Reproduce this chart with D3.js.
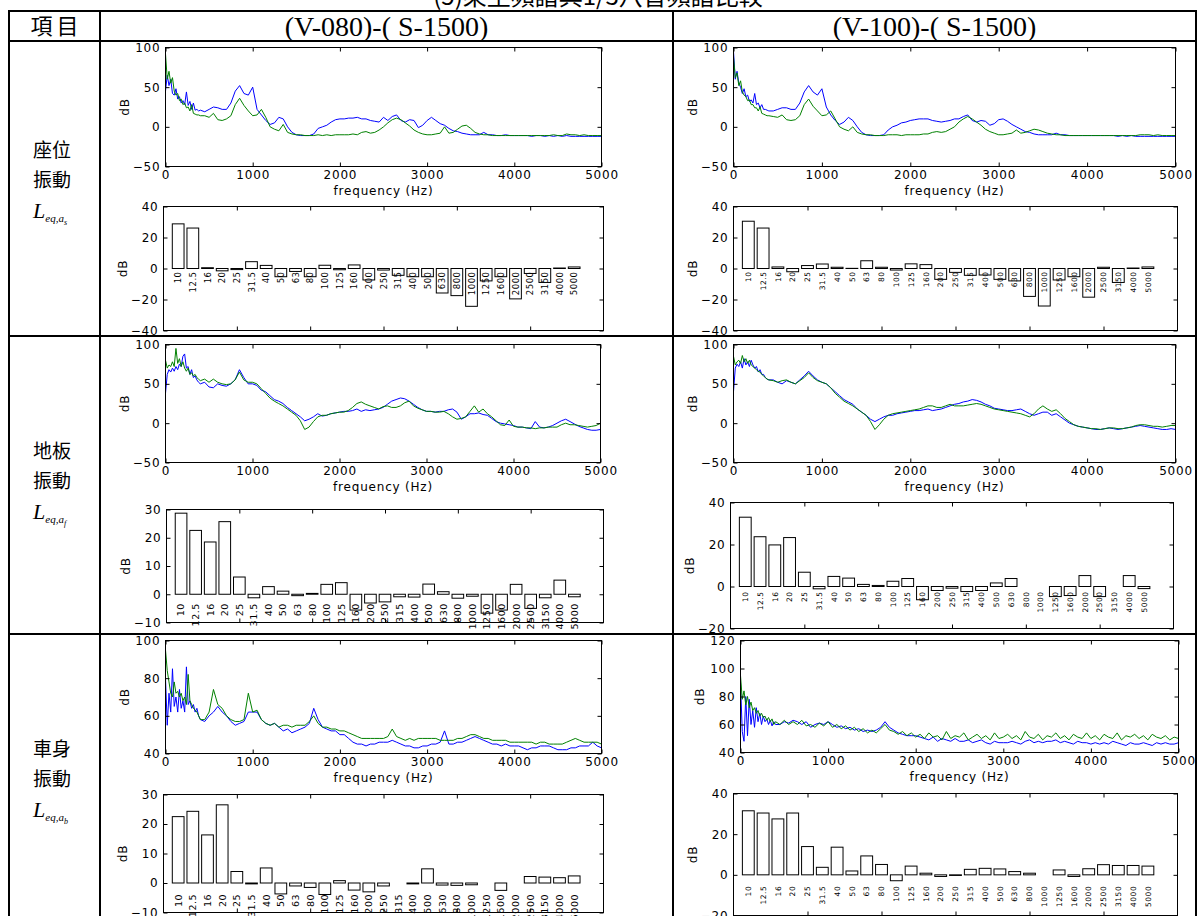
<!DOCTYPE html>
<html>
<head>
<meta charset="utf-8">
<style>
  body { margin: 0; background: #fff; }
</style>
</head>
<body>
<svg id="chart" width="1198" height="916" viewBox="0 0 1198 916" xmlns="http://www.w3.org/2000/svg"></svg>
<script src="https://d3js.org/d3.v7.min.js"></script>
<script>

const title = "(5)乘坐頻譜與1/3八音頻譜比較";
const colTitles = ["(V-080)-( S-1500)", "(V-100)-( S-1500)"];
const rowNames = [["座位", "振動", "s"], ["地板", "振動", "f"], ["車身", "振動", "b"]];

// 1/3 octave bands
const bands = ["10","12.5","16","20","25","31.5","40","50","63","80","100","125","160","200",
  "250","315","400","500","630","800","1000","1250","1600","2000","2500","3150","4000","5000"];

// spectrum frequency grid (Hz)
const freq = [0,20,40,60,80,100,120,140,160,180,200,220,240,260,280,300,320,340,360,380,400,
  450,500,
  550,600,650,700,750,800,850,900,950,1000,
  1050,1100,1150,1200,1250,1300,1350,1400,1450,1500,
  1550,1600,1650,1700,1750,1800,1850,1900,1950,2000,
  2050,2100,2150,2200,2250,2300,2350,2400,2450,2500,
  2550,2600,2650,2700,2750,2800,2850,2900,2950,3000,
  3050,3100,3150,3200,3250,3300,3350,3400,3450,3500,
  3550,3600,3650,3700,3750,3800,3850,3900,3950,4000,
  4050,4100,4150,4200,4250,4300,4350,4400,4450,4500,
  4550,4600,4650,4700,4750,4800,4850,4900,4950,5000];

// seat, V-080
const seat080Blue = [45,65,52,60,42,40,48,35,38,30,33,28,44,27,32,22,30,21,22,20,21,
  19,22,
  25,24,22,22,30,45,52,42,40,50,
  22,15,8,3,5,12,10,0,-7,-10,
  -11,-11,-11,-9,-2,0,2,6,9,10,
  10,11,11,12,10,10,8,7,6,12,
  8,13,15,8,6,9,8,-1,2,8,
  12,8,4,2,-2,-5,-6,-8,-9,-10,
  -10,-10,-7,-10,-10,-11,-11,-10,-11,-11,
  -11,-11,-11,-12,-11,-11,-12,-11,-12,-11,
  -12,-11,-12,-12,-12,-12,-12,-12,-12,-12];
const seat080Green = [92,60,70,55,62,45,40,42,33,35,28,30,24,25,20,28,17,16,15,15,14,
  14,12,
  17,9,8,10,14,28,36,27,20,14,
  15,22,12,0,-3,-5,3,-7,-9,-10,
  -10,-11,-11,-11,-10,-11,-10,-11,-10,-10,
  -10,-10,-9,-10,-7,-6,-8,-7,-4,0,
  5,9,11,9,5,1,-4,-7,-9,-10,
  -10,-9,-8,0,-8,-7,-3,1,2,-2,
  -7,-9,-10,-10,-11,-11,-11,-11,-11,-11,
  -11,-11,-11,-11,-11,-11,-11,-11,-10,-11,
  -11,-9,-10,-10,-11,-10,-11,-11,-11,-11];

// floor, V-080
const floor080Blue = [38,62,68,65,70,66,72,68,75,72,85,88,70,72,62,68,58,60,55,52,50,
  52,46,
  45,50,48,47,50,55,68,58,50,50,
  48,42,40,35,30,28,25,20,16,12,
  8,3,5,8,12,9,10,12,13,14,
  15,15,16,18,15,17,16,17,18,20,
  24,28,30,32,31,28,24,20,17,15,
  15,14,15,15,17,18,14,5,8,12,
  12,13,11,10,6,2,0,-1,-2,-3,
  -5,-5,-6,-7,2,-5,-6,-5,-3,0,
  3,5,2,-1,-4,-6,-8,-9,-9,-8];
const floor080Green = [80,70,74,72,78,72,95,76,82,72,78,70,66,70,62,64,60,62,58,56,54,
  56,52,
  56,52,50,49,50,55,65,55,52,52,
  50,44,38,32,28,25,22,18,14,10,
  3,-8,-5,2,8,10,10,12,13,14,
  14,16,20,25,27,24,22,20,18,21,
  22,20,20,22,26,28,22,19,17,15,
  15,14,14,15,12,8,5,6,8,15,
  22,14,18,12,8,3,-2,-3,4,-4,
  -5,-5,-6,-6,-7,-6,-6,-5,-5,-5,
  -2,0,-2,-2,-3,-4,-5,-4,-3,0];

// body, V-080
const body080Blue = [80,55,72,62,85,65,70,62,74,64,68,62,86,66,68,64,66,62,64,60,58,
  57,60,
  62,65,62,60,57,55,56,57,62,62,
  62,58,56,55,56,54,52,53,51,52,
  53,54,56,64,58,54,53,52,52,50,
  50,48,46,45,45,44,45,45,46,46,
  46,47,46,45,44,44,43,43,44,44,
  45,45,46,52,45,45,46,46,47,48,
  49,48,47,46,45,45,44,45,44,44,
  44,43,42,43,43,44,44,44,43,42,
  42,42,43,43,44,44,44,46,44,43];
const body080Green = [95,84,78,72,70,78,72,73,70,72,68,70,66,82,68,66,64,63,62,60,58,
  58,62,
  74,66,64,60,58,57,57,58,72,62,
  63,58,56,55,56,54,55,55,54,55,
  55,55,57,60,56,54,54,53,53,52,
  52,51,50,49,48,48,48,48,48,48,
  49,53,49,48,47,48,47,48,48,48,
  48,48,47,47,47,47,48,48,49,50,
  50,49,48,48,47,47,47,47,46,46,
  46,46,46,46,45,46,46,45,45,45,
  45,46,47,48,47,46,46,46,46,45];

// seat, V-100
const seat100Blue = [95,60,70,55,50,42,48,38,40,32,34,30,42,28,30,24,28,22,22,21,20,
  20,22,
  24,24,22,22,30,44,52,44,40,48,
  25,15,8,3,6,12,8,0,-7,-10,
  -11,-11,-11,-10,-4,0,2,5,6,8,
  9,10,10,10,8,7,6,7,8,10,
  10,13,15,8,6,8,7,2,4,9,
  10,7,3,0,-3,-6,-7,-9,-10,-10,
  -10,-10,-8,-10,-10,-11,-11,-11,-11,-11,
  -11,-11,-11,-11,-11,-11,-12,-11,-12,-11,
  -12,-12,-12,-12,-12,-12,-12,-12,-12,-12];
const seat100Green = [88,62,68,52,58,44,40,38,33,34,28,28,24,24,20,25,17,16,15,14,14,
  13,12,
  15,9,8,9,14,28,35,26,20,14,
  15,20,10,0,-3,-5,0,-7,-9,-10,
  -10,-11,-11,-11,-10,-10,-10,-11,-10,-10,
  -10,-10,-9,-9,-7,-6,-7,-6,-3,0,
  6,10,13,10,6,2,-3,-6,-8,-10,
  -10,-9,-8,-4,-8,-7,-5,-3,-4,-6,
  -8,-9,-10,-10,-11,-11,-11,-11,-11,-11,
  -11,-11,-11,-11,-11,-11,-11,-11,-11,-11,
  -11,-10,-10,-10,-11,-10,-11,-11,-11,-11];

// floor, V-100
const floor100Blue = [40,70,75,72,78,70,82,74,78,72,80,74,70,72,65,68,62,62,58,56,55,
  55,52,
  50,54,52,50,55,60,66,60,55,52,
  50,45,40,35,30,27,24,18,14,10,
  5,2,5,8,10,10,12,13,14,15,
  16,16,17,18,16,17,18,20,22,24,
  25,27,28,30,29,27,24,22,19,18,
  17,16,16,17,18,15,12,10,12,14,
  14,10,12,8,4,0,-2,-4,-5,-6,
  -7,-8,-8,-7,-6,-7,-8,-7,-6,-5,
  -4,-3,-4,-5,-6,-7,-8,-8,-7,-8];
const floor100Green = [85,74,78,80,76,86,78,82,76,80,74,72,70,68,66,65,62,60,58,56,55,
  54,52,
  54,55,52,50,54,58,64,58,54,52,
  50,45,38,33,28,25,22,18,14,10,
  2,-8,-2,5,10,12,13,14,15,16,
  17,18,20,22,22,20,20,22,24,22,
  22,22,23,24,25,24,22,20,18,17,
  16,15,14,13,12,10,8,12,18,22,
  18,15,17,12,6,2,-2,-4,-5,-6,
  -7,-7,-8,-7,-6,-6,-7,-7,-6,-5,
  -3,-2,-2,-3,-4,-4,-5,-4,-3,-3];

// body, V-100
const body100Blue = [90,55,48,80,52,78,60,70,58,72,62,68,60,66,62,64,60,63,59,62,60,
  60,62,
  61,63,62,60,62,58,60,61,60,62,
  60,58,59,57,58,56,57,55,56,55,
  56,58,62,58,56,54,53,52,52,52,
  51,50,49,51,48,50,49,48,50,48,
  48,49,47,48,49,47,46,48,47,47,
  47,48,47,46,48,49,47,48,47,48,
  48,49,47,48,47,46,48,47,47,46,
  47,46,47,46,48,47,46,45,47,46,
  46,47,46,45,47,46,47,46,46,47];
const body100Green = [95,78,84,74,80,72,76,70,72,68,70,66,68,65,66,63,65,62,64,60,62,
  60,63,
  60,62,60,63,59,60,58,61,59,62,
  58,60,57,59,56,58,55,57,54,56,
  54,57,60,56,55,53,55,52,54,51,
  53,50,54,51,52,49,55,50,52,51,
  54,49,51,53,50,52,49,54,50,51,
  53,50,52,49,55,51,50,53,49,52,
  51,54,50,52,49,53,51,50,54,50,
  52,49,53,51,50,54,49,52,51,53,
  50,52,49,53,51,50,52,49,51,50];

// 1/3 octave band levels (dB)
const barSeat080  = [28.8,26.1,0.5,-1.5,-0.7,4.4,2,-5.3,-1.9,-5.3,2.1,-0.8,2.3,-7.4,-1,-4.4,-5.3,-5.3,-15.8,-17.5,-24.4,-8,-5.3,-19.6,-3.2,-9,0.3,1];
const barSeat100  = [30.5,26.1,1,-2.1,1.9,2.9,0.8,0.1,5,0.8,-1,3,2.5,-7,-2.5,-4.4,-4.2,-7,-8,-18,-24.2,-7.4,-5.3,-18.5,0.8,-9,0.3,1];
const barFloor080 = [28.7,22.6,18.5,25.7,6.1,-1.25,2.7,1.1,-0.5,0.3,3.5,4.1,-5.6,-3.1,-2.7,-0.9,-1,3.6,0.9,-1.4,-0.7,-6.7,-5.6,3.5,-5,-1.25,5,-0.9];
const barFloor100 = [33,23.7,19.8,23.3,6.8,-1.1,4.8,4,1,0.5,2.5,3.8,-6.3,-1.9,-0.8,-2.4,-1.9,1.7,3.8,0,0,-4.8,-4.3,5.2,-4.8,0,5.2,-1];
const barBody080  = [22.5,24.3,16.3,26.5,3.9,-0.3,5.1,-3.7,-1,-1.5,-3.9,0.8,-2.4,-3,-1,0,-0.3,4.8,-0.7,-0.8,-0.6,0,-2.5,0,2.2,2,1.8,2.4];
const barBody100  = [31.5,30.4,27.5,30.4,13.9,3.7,13.6,1.9,9.3,5.1,-2.9,4.3,0.8,-0.8,-0.3,2.7,3.2,2.9,1.6,0.8,0,2.4,-0.8,3,5,4.6,4.6,4.3];

// ---- layout ----
const svg = d3.select("#chart");
const tick = "DejaVu Sans";
const cjk = "Noto Sans CJK TC";
const tickSize = 12, tickSpacing = 0.8;

const specPanels = [
  { x0: 165, x1: 601, y0: 47,  y1: 166, dom: [-50, 100], ticks: [-50, 0, 50, 100], blue: seat080Blue,  green: seat080Green },
  { x0: 165, x1: 600, y0: 344, y1: 462, dom: [-50, 100], ticks: [-50, 0, 50, 100], blue: floor080Blue, green: floor080Green },
  { x0: 165, x1: 601, y0: 640, y1: 753, dom: [40, 100],  ticks: [40, 60, 80, 100], blue: body080Blue,  green: body080Green },
  { x0: 733, x1: 1175, y0: 47,  y1: 166, dom: [-50, 100], ticks: [-50, 0, 50, 100], blue: seat100Blue,  green: seat100Green },
  { x0: 733, x1: 1175, y0: 344, y1: 462, dom: [-50, 100], ticks: [-50, 0, 50, 100], blue: floor100Blue, green: floor100Green },
  { x0: 740, x1: 1178, y0: 640, y1: 752, dom: [40, 120],  ticks: [40, 60, 80, 100, 120], blue: body100Blue, green: body100Green }
];

const barPanels = [
  { x0: 163, x1: 603, y0: 206, y1: 330, dom: [-40, 40], ticks: [-40, -20, 0, 20, 40], vals: barSeat080,  lab: 8.5, off: 3 },
  { x0: 166, x1: 603, y0: 509, y1: 622, dom: [-10, 30], ticks: [-10, 0, 10, 20, 30],  vals: barFloor080, lab: 9.5, off: 9 },
  { x0: 163, x1: 603, y0: 794, y1: 912, dom: [-10, 30], ticks: [-10, 0, 10, 20, 30],  vals: barBody080,  lab: 9.5, off: 11 },
  { x0: 733, x1: 1177, y0: 206, y1: 330, dom: [-40, 40], ticks: [-40, -20, 0, 20, 40], vals: barSeat100,  lab: 7.5, off: 3 },
  { x0: 730, x1: 1173, y0: 502, y1: 628, dom: [-20, 40], ticks: [-20, 0, 20, 40],      vals: barFloor100, lab: 7.5, off: 5 },
  { x0: 733, x1: 1177, y0: 793, y1: 915, dom: [-20, 40], ticks: [-20, 0, 20, 40],      vals: barBody100,  lab: 7.5, off: 11 }
];

function styleAxis(a) {
  a.select(".domain").remove();
  a.attr("font-family", tick).attr("font-size", tickSize).attr("letter-spacing", tickSpacing);
  a.selectAll("line").attr("stroke", "#000");
  a.selectAll("text").attr("fill", "#000");
}

function drawAxes(g, x, y, w, h, xt, yt, xfmt) {
  const mk = (gen, tr) => { const a = g.append("g").attr("transform", tr).call(gen); styleAxis(a); return a; };
  mk(d3.axisBottom(x).tickValues(xt).tickSizeInner(-4).tickSizeOuter(0).tickPadding(4).tickFormat(xfmt), `translate(0,${h})`);
  mk(d3.axisTop(x).tickValues(xt).tickSizeInner(-4).tickSizeOuter(0).tickFormat(""), "translate(0,0)");
  mk(d3.axisLeft(y).tickValues(yt).tickSizeInner(-4).tickSizeOuter(0).tickPadding(5), "translate(0,0)");
  mk(d3.axisRight(y).tickValues(yt).tickSizeInner(-4).tickSizeOuter(0).tickFormat(""), `translate(${w},0)`);
  g.append("rect").attr("width", w).attr("height", h).attr("fill", "none").attr("stroke", "#000");
  g.append("text")
    .attr("transform", `translate(-41,${h / 2}) rotate(-90)`)
    .attr("text-anchor", "middle").attr("dy", "0.35em")
    .attr("font-family", tick).attr("font-size", tickSize).attr("letter-spacing", tickSpacing)
    .text("dB");
}

// spectra
specPanels.forEach((p, i) => {
  const w = p.x1 - p.x0, h = p.y1 - p.y0;
  const g = svg.append("g").attr("transform", `translate(${p.x0 + 0.5},${p.y0 + 0.5})`);
  const x = d3.scaleLinear().domain([0, 5000]).range([0, w]);
  const y = d3.scaleLinear().domain(p.dom).range([h, 0]);
  g.append("clipPath").attr("id", "clip" + i)
    .append("rect").attr("width", w).attr("height", h);
  const line = d3.line()
    .defined(d => d[1] != null)
    .x(d => x(d[0])).y(d => y(d[1]));
  [[p.blue, "#0000ff"], [p.green, "#008000"]].forEach(([s, c]) => {
    g.append("path")
      .attr("d", line(freq.map((f, k) => [f, s[k]])))
      .attr("clip-path", `url(#clip${i})`)
      .attr("fill", "none").attr("stroke", c).attr("stroke-width", 1);
  });
  drawAxes(g, x, y, w, h, [0, 1000, 2000, 3000, 4000, 5000], p.ticks, d3.format("d"));
  g.append("text")
    .attr("x", w / 2).attr("y", h + 28)
    .attr("text-anchor", "middle")
    .attr("font-family", tick).attr("font-size", tickSize).attr("letter-spacing", tickSpacing)
    .text("frequency (Hz)");
});

// 1/3 octave bars
barPanels.forEach(p => {
  const w = p.x1 - p.x0, h = p.y1 - p.y0;
  const g = svg.append("g").attr("transform", `translate(${p.x0 + 0.5},${p.y0 + 0.5})`);
  const x = d3.scaleLinear().domain([0, 30]).range([0, w]);
  const y = d3.scaleLinear().domain(p.dom).range([h, 0]);
  const bw = x(0.8) - x(0);
  g.selectAll("rect.bar").data(p.vals).join("rect")
    .attr("class", "bar")
    .attr("x", (d, k) => x(k + 1) - bw / 2)
    .attr("y", d => y(Math.max(0, d)))
    .attr("width", bw)
    .attr("height", d => Math.abs(y(d) - y(0)))
    .attr("fill", "#fff").attr("stroke", "#000");
  g.selectAll("text.band").data(bands).join("text")
    .attr("class", "band")
    .attr("transform", (d, k) => `translate(${x(k + 1)},${y(0) + p.off}) rotate(-90)`)
    .attr("text-anchor", "end").attr("dy", "0.36em")
    .attr("font-family", tick).attr("font-size", p.lab).attr("letter-spacing", 0.5)
    .text(d => d);
  drawAxes(g, x, y, w, h, [5, 10, 15, 20, 25], p.ticks, () => "");
});

// table grid
const T = { left: 9, right: 1196, top: 11, head: 41, rows: [336, 634], bottom: 940, cols: [100, 673] };
const grid = svg.append("g").attr("stroke", "#000").attr("stroke-width", 2);
[T.top, T.head, ...T.rows].forEach(yy =>
  grid.append("line").attr("x1", T.left - 1).attr("x2", T.right + 1).attr("y1", yy).attr("y2", yy));
[T.left, ...T.cols, T.right].forEach(xx =>
  grid.append("line").attr("x1", xx).attr("x2", xx).attr("y1", T.top).attr("y2", T.bottom));

// title, cut at the top edge
svg.append("text")
  .attr("x", 598).attr("y", 5)
  .attr("text-anchor", "middle")
  .attr("font-family", cjk).attr("font-size", 24)
  .text(title);

// header row
svg.append("text")
  .attr("x", (T.left + T.cols[0]) / 2 + 2).attr("y", 34)
  .attr("text-anchor", "middle")
  .attr("font-family", cjk).attr("font-size", 22).attr("letter-spacing", 4)
  .text("項目");
colTitles.forEach((t, i) => {
  const a = T.cols[i], b = i === 0 ? T.cols[1] : T.right;
  svg.append("text")
    .attr("x", (a + b) / 2).attr("y", 36)
    .attr("text-anchor", "middle")
    .attr("font-family", "Liberation Serif").attr("font-size", 28)
    .text(t);
});

// row labels
const rowLabelY = [150, 451, 749];
rowNames.forEach((r, i) => {
  const y0 = rowLabelY[i];
  [r[0], r[1]].forEach((s, k) => {
    svg.append("text")
      .attr("x", 33).attr("y", y0 + k * 30)
      .attr("dy", "0.36em")
      .attr("font-family", cjk).attr("font-size", 19)
      .text(s);
  });
  const L = svg.append("text")
    .attr("x", 33).attr("y", y0 + 68)
    .attr("font-family", "Liberation Serif").attr("font-style", "italic");
  L.append("tspan").attr("font-size", 22).text("L");
  L.append("tspan").attr("font-size", 11).attr("dy", 4).text("eq,a");
  L.append("tspan").attr("font-size", 8).attr("dy", 3).text(r[2]);
});
</script>
</body>
</html>
